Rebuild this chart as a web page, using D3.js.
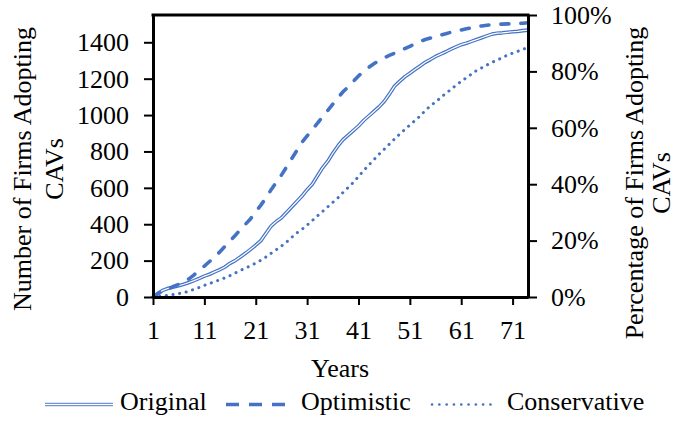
<!DOCTYPE html>
<html>
<head>
<meta charset="utf-8">
<script src="https://cdn.jsdelivr.net/npm/d3@7"></script>
<style>
  html, body { margin: 0; padding: 0; background: #fff; }
  svg { display: block; }
  svg text { font-family: "Liberation Serif", "Times New Roman", serif; }
</style>
</head>
<body>
<svg id="chart" width="677" height="421"></svg>
<script>
// Years since start of simulation
const years = d3.range(1, 75);

// Cumulative number of firms adopting CAVs per scenario
const original = [
  0, 20, 38, 48, 55, 62, 70, 80, 90, 102,
  115, 125, 138, 150, 165, 185, 200, 220, 240, 262,
  285, 310, 350, 390, 415, 435, 465, 495, 525, 555,
  590, 620, 665, 710, 745, 790, 830, 865, 890, 915,
  940, 970, 995, 1020, 1045, 1075, 1115, 1158, 1185, 1210,
  1230, 1250, 1270, 1290, 1305, 1322, 1335, 1348, 1362, 1375,
  1387, 1395, 1405, 1415, 1425, 1435, 1445, 1450, 1452, 1455,
  1458, 1460, 1464, 1467
];
const optimistic = [
  0, 20, 32, 45, 58, 70, 82, 100, 122, 148,
  170, 195, 220, 248, 278, 308, 338, 370, 400, 430,
  468, 505, 545, 590, 630, 670, 715, 760, 805, 850,
  885, 918, 955, 990, 1025, 1060, 1095, 1128, 1155, 1185,
  1215, 1240, 1262, 1282, 1300, 1315, 1328, 1340, 1353, 1365,
  1378, 1392, 1405, 1415, 1423, 1432, 1440, 1447, 1455, 1462,
  1468, 1474, 1480, 1485, 1490, 1494, 1497, 1499, 1500, 1501,
  1502, 1503, 1505, 1507
];
const conservative = [
  0, 3, 6, 10, 14, 19, 24, 32, 42, 52,
  64, 74, 84, 95, 105, 118, 132, 146, 158, 172,
  186, 202, 220, 240, 260, 280, 302, 328, 352, 372,
  395, 420, 445, 470, 495, 520, 545, 575, 602, 630,
  662, 695, 725, 755, 785, 812, 840, 868, 895, 920,
  945, 970, 995, 1025, 1050, 1072, 1095, 1120, 1140, 1165,
  1185, 1205, 1225, 1245, 1260, 1275, 1290, 1303, 1315, 1330,
  1340, 1350, 1362, 1370
];

// Axis ticks
const xTicks = [1, 11, 21, 31, 41, 51, 61, 71];
const yTicks = [0, 200, 400, 600, 800, 1000, 1200, 1400];
const pctTicks = [0, 0.2, 0.4, 0.6, 0.8, 1.0];
const totalFirms = 1550;

const seriesNames = ["Original", "Optimistic", "Conservative"];

const blue = "#4472C4";
const serif = "'Liberation Serif', 'Times New Roman', serif";
const svg = d3.select("#chart");

const m = { left: 153, right: 528, top: 15, bottom: 297 };

const x = d3.scaleLinear().domain([1, 74]).range([m.left, m.right]);
const y = d3.scaleLinear().domain([0, totalFirms]).range([m.bottom, m.top]);
const yPct = d3.scaleLinear().domain([0, 1]).range([m.bottom, m.top]);

const line = d3.line()
  .x((d, i) => x(years[i]))
  .y(d => y(d));

// Series lines
const plot = svg.append("g");
// Original: double line (blue outline with white core)
plot.append("path").datum(original).attr("d", line)
  .attr("fill", "none").attr("stroke", blue).attr("stroke-width", 3.6)
  .attr("stroke-linejoin", "round");
plot.append("path").datum(original).attr("d", line)
  .attr("fill", "none").attr("stroke", "#fff").attr("stroke-width", 1.2)
  .attr("stroke-linejoin", "round");
// Optimistic: dashed
plot.append("path").datum(optimistic).attr("d", line)
  .attr("fill", "none").attr("stroke", blue).attr("stroke-width", 3.6)
  .attr("stroke-dasharray", "8 12").attr("stroke-linecap", "round");
// Conservative: round dots
plot.append("path").datum(conservative).attr("d", line)
  .attr("fill", "none").attr("stroke", blue).attr("stroke-width", 3)
  .attr("stroke-dasharray", "0.1 6.6").attr("stroke-linecap", "round");

// Axes
const fontSize = 26;
function styleAxis(g) {
  g.attr("font-family", serif).attr("font-size", fontSize);
  g.selectAll(".domain").attr("stroke", "#000").attr("stroke-width", 3);
  g.selectAll(".tick line").attr("stroke", "#000").attr("stroke-width", 2);
  g.selectAll(".tick text").style("font-family", serif)
    .attr("font-size", fontSize).attr("fill", "#000");
}

svg.append("g").attr("transform", `translate(${m.left},0)`)
  .call(d3.axisLeft(y).tickValues(yTicks).tickSize(9).tickSizeOuter(0).tickPadding(15).tickFormat(d3.format("d")))
  .call(styleAxis);

svg.append("g").attr("transform", `translate(${m.right},0)`)
  .call(d3.axisRight(yPct).tickValues(pctTicks).tickSize(9).tickSizeOuter(0).tickPadding(14).tickFormat(d3.format(".0%")))
  .call(styleAxis);

svg.append("g").attr("transform", `translate(0,${m.bottom})`)
  .call(d3.axisBottom(x).tickValues(xTicks).tickSize(8).tickSizeOuter(0).tickPadding(16).tickFormat(d3.format("d")))
  .call(styleAxis);

// Top border of the plot area
svg.append("line")
  .attr("x1", m.left - 1.5).attr("x2", m.right + 1.5)
  .attr("y1", m.top).attr("y2", m.top)
  .attr("stroke", "#000").attr("stroke-width", 3);

// Axis titles
const titleStyle = t => t.attr("font-size", fontSize).attr("fill", "#000")
  .attr("text-anchor", "middle").style("font-family", serif);

const leftTitle = svg.append("text").call(titleStyle)
  .attr("transform", "translate(31,169) rotate(-90)");
leftTitle.append("tspan").attr("x", 0).attr("dy", 0).text("Number of Firms Adopting");
leftTitle.append("tspan").attr("x", 0).attr("dy", 32).text("CAVs");

const rightTitle = svg.append("text").call(titleStyle)
  .attr("transform", "translate(643,183) rotate(-90)");
rightTitle.append("tspan").attr("x", 0).attr("dy", 0).text("Percentage of Firms Adopting");
rightTitle.append("tspan").attr("x", 0).attr("dy", 27).text("CAVs");

svg.append("text").call(titleStyle)
  .attr("x", 340).attr("y", 377).text("Years");

// Legend
const legendY = 404.5;
const legendItems = [
  { name: seriesNames[0], x1: 45, x2: 113, tx: 120 },
  { name: seriesNames[1], x1: 226, x2: 285, tx: 301 },
  { name: seriesNames[2], x1: 432, x2: 497, tx: 507 }
];
const lg = svg.append("g");
legendItems.forEach((it, i) => {
  if (i === 0) {
    lg.append("line").attr("x1", it.x1).attr("x2", it.x2).attr("y1", legendY).attr("y2", legendY)
      .attr("stroke", blue).attr("stroke-width", 3.6).attr("stroke-opacity", 0.75);
    lg.append("line").attr("x1", it.x1).attr("x2", it.x2).attr("y1", legendY).attr("y2", legendY)
      .attr("stroke", "#fff").attr("stroke-width", 1.2);
  } else if (i === 1) {
    lg.append("line").attr("x1", it.x1).attr("x2", it.x2).attr("y1", legendY).attr("y2", legendY)
      .attr("stroke", blue).attr("stroke-width", 3.5).attr("stroke-dasharray", "13 10");
  } else {
    lg.append("line").attr("x1", it.x1).attr("x2", it.x2).attr("y1", legendY).attr("y2", legendY)
      .attr("stroke", blue).attr("stroke-width", 2.6).attr("stroke-dasharray", "0.1 7.2")
      .attr("stroke-linecap", "round");
  }
  lg.append("text").attr("x", it.tx).attr("y", 410)
    .style("font-family", serif)
    .attr("font-size", fontSize).attr("fill", "#000").text(it.name);
});
</script>
</body>
</html>
